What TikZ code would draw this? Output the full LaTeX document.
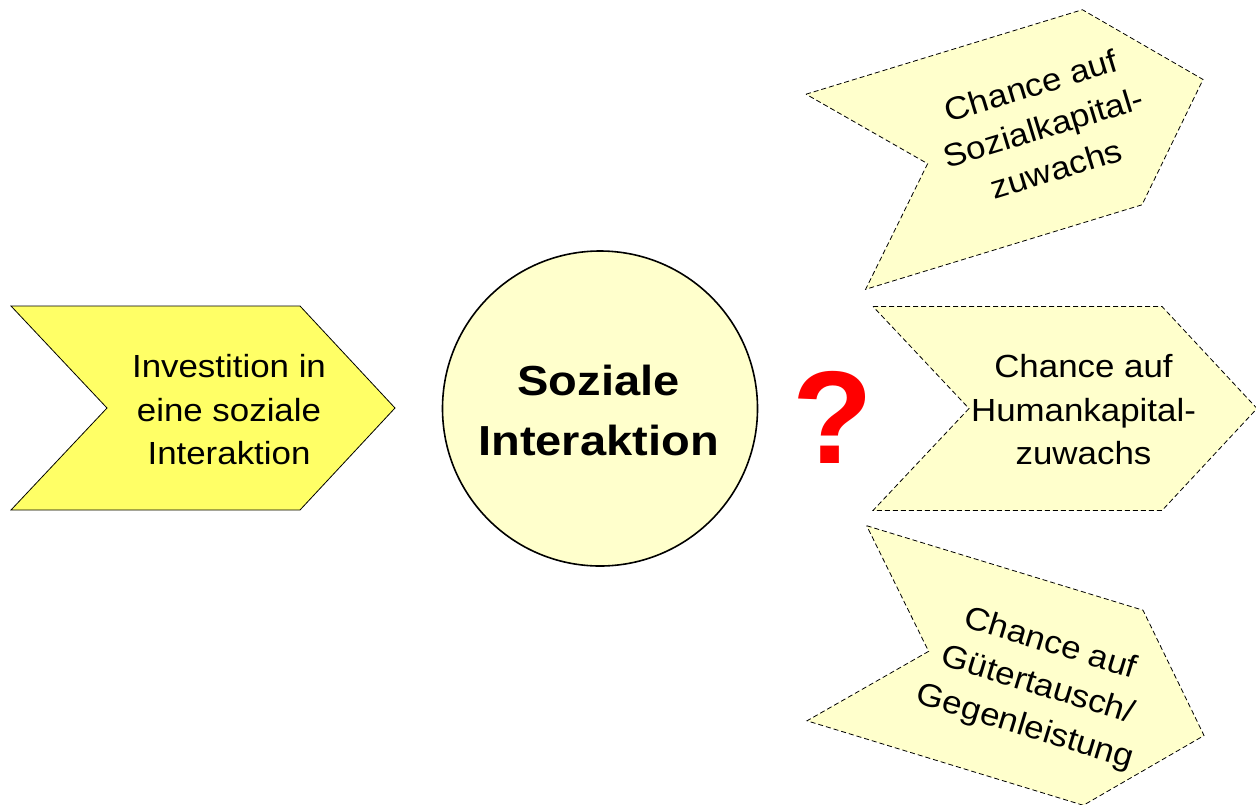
\documentclass[tikz,border=0pt]{standalone}
\usepackage{fontspec}
\setmainfont{Liberation Sans}
\usepackage{tikz}
\usetikzlibrary{calc}
\definecolor{InvestYellow}{RGB}{255,255,102}
\definecolor{ChancePale}{RGB}{255,255,204}
\definecolor{AskRed}{RGB}{255,0,0}

\begin{document}
\begin{tikzpicture}[x=1pt, y=1pt,
    chevron/.style={line width=0.8pt, line join=miter},
    chance/.style={chevron, fill=ChancePale, dash pattern=on 5pt off 3pt},
    labeltext/.style={align=center, inner sep=0pt, xscale=1.09,
        font=\fontsize{32}{43.5}\selectfont},
    kerntext/.style={align=center, inner sep=0pt, xscale=1.12,
        font=\fontsize{42}{60}\selectfont\bfseries}]
    \useasboundingbox (0,0) rectangle (1256,-804);
    % investment (left)
    \begin{scope}[shift={(155.5,-408)}]
        \draw[chevron, fill=InvestYellow]
            (-144.5,102) -- (144.5,102) -- (239.5,0) -- (144.5,-102)
            -- (-144.5,-102) -- (-48.5,0) -- cycle;
        \node[labeltext] (invest) at (73.5,-2) {Investition in\\eine soziale\\Interaktion};
    \end{scope}
    % the interaction itself
    \node[circle, draw, line width=1.6pt, fill=ChancePale, minimum size=315pt,
        inner sep=0pt] (interaktion) at (600,-408.5) {};
    \node[kerntext] (interaktiontext) at (598.5,-410) {Soziale\\Interaktion};
    \node[text=AskRed, inner sep=0pt, font=\fontsize{132}{132}\selectfont\bfseries]
        (frage) at (832.5,-417.5) {?};
    % possible returns (right)
    \foreach \cx/\cy/\ang/\tx/\ty/\nm/\txt in {
        974/-149.5/17/73/1/sozial/{Chance auf\\Sozialkapital-\\zuwachs},
        1017.5/-408.5/0/66/-1.5/human/{Chance auf\\Humankapital-\\zuwachs},
        975/-665.5/-17/66/-1.5/gueter/{Chance auf\\G\"utertausch/\\Gegenleistung}} {
        \begin{scope}[shift={(\cx,\cy)}, rotate=\ang]
            \draw[chance]
                (-144.5,102) -- (144.5,102) -- (239.5,0) -- (144.5,-102)
                -- (-144.5,-102) -- (-48.5,0) -- cycle;
            \node[labeltext, transform shape] (\nm) at (\tx,\ty) {\txt};
        \end{scope}
    }
\end{tikzpicture}
\end{document}
